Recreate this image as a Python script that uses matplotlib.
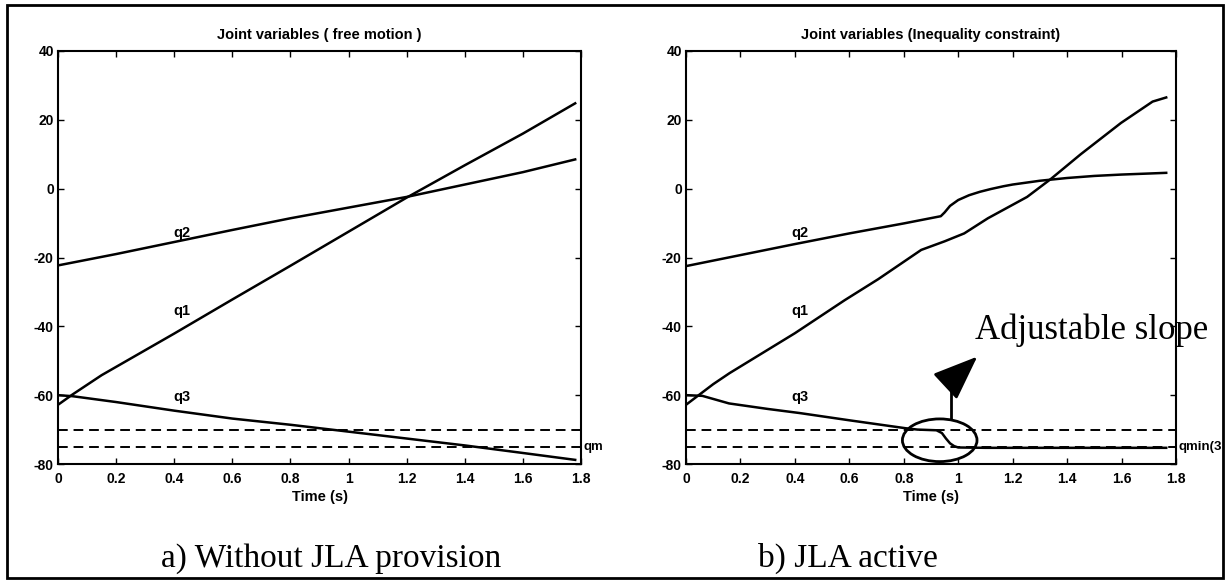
import numpy as np
import matplotlib
matplotlib.use("Agg")
import matplotlib.pyplot as plt
from matplotlib.patches import Ellipse, Rectangle

plt.rcParams['font.family'] = ['Liberation Sans', 'DejaVu Sans']
plt.rcParams['axes.unicode_minus'] = False

# ---- data ----
# a) free motion
t_q1a = [0, 0.05, 0.1, 0.15, 0.4, 0.6, 0.8, 1.0, 1.2, 1.4, 1.6, 1.78]
q1a = [-62.8, -59.8, -57.0, -54.2, -42.1, -32.2, -22.4, -12.5, -2.6, 6.8, 16.0, 24.8]
t_q2a = [0, 0.2, 0.4, 0.6, 0.8, 1.0, 1.2, 1.4, 1.6, 1.78]
q2a = [-22.3, -19.0, -15.5, -12.0, -8.6, -5.5, -2.4, 1.2, 4.8, 8.5]
t_q3a = [0, 0.05, 0.2, 0.4, 0.6, 0.8, 1.0, 1.2, 1.4, 1.6, 1.78]
q3a = [-60.0, -60.3, -62.0, -64.5, -66.8, -68.6, -70.6, -72.6, -74.6, -76.8, -78.8]

# b) inequality constraint (JLA active)
t_q1b = [0, 0.05, 0.1, 0.16, 0.4, 0.583, 0.706, 0.864, 0.95, 1.022, 1.109, 1.253,
         1.34, 1.45, 1.598, 1.714, 1.764]
q1b = [-62.8, -59.8, -56.8, -53.6, -42.0, -32.4, -26.3, -17.8, -15.3, -13.0, -8.6, -2.4,
       2.8, 10.0, 19.1, 25.3, 26.5]
t_q2b = [0, 0.2, 0.4, 0.6, 0.8, 0.936, 0.95, 0.97, 1.0, 1.04, 1.08, 1.12, 1.166, 1.2,
         1.3, 1.4, 1.5, 1.6, 1.7, 1.764]
q2b = [-22.5, -19.3, -16.1, -13.0, -10.1, -8.0, -6.9, -5.0, -3.3, -1.9, -0.9, -0.1, 0.7,
       1.2, 2.3, 3.1, 3.7, 4.1, 4.4, 4.6]
t_q3b = [0, 0.06, 0.158, 0.3, 0.418, 0.6, 0.806, 0.85, 0.92, 0.94, 0.955, 0.97, 0.985,
         1.0, 1.1, 1.4, 1.764]
q3b = [-60.0, -60.2, -62.4, -64.0, -65.2, -67.3, -69.6, -70.0, -70.2, -71.0, -72.6, -74.0,
       -74.8, -75.2, -75.3, -75.3, -75.3]

q_limits = [-70, -75]
xticks = [0, 0.2, 0.4, 0.6, 0.8, 1, 1.2, 1.4, 1.6, 1.8]
xtick_labels = ['0', '0.2', '0.4', '0.6', '0.8', '1', '1.2', '1.4', '1.6', '1.8']
yticks = [-80, -60, -40, -20, 0, 20, 40]

W, H = 1228, 583
fig = plt.figure(figsize=(W / 100, H / 100), dpi=100)


def px_axes(x0, y0, x1, y1):
    return fig.add_axes([x0 / W, 1 - y1 / H, (x1 - x0) / W, (y1 - y0) / H])


def style(ax, title):
    ax.set_xlim(0, 1.8)
    ax.set_ylim(-80, 40)
    ax.set_xticks(xticks)
    ax.set_xticklabels(xtick_labels)
    ax.set_yticks(yticks)
    ax.tick_params(direction='in', top=True, right=True, length=4, width=1,
                   labelsize=10, pad=3)
    ax.tick_params(axis='x', pad=6)
    for lab in ax.get_xticklabels() + ax.get_yticklabels():
        lab.set_fontweight('bold')
    for s in ax.spines.values():
        s.set_linewidth(1.5)
    ax.set_title(title, fontsize=10.5, fontweight='bold', pad=9)
    ax.set_xlabel('Time (s)', fontsize=10.5, fontweight='bold', labelpad=3)
    for q in q_limits:
        ax.axhline(q, color='black', lw=1.4, ls=(0, (5, 3)))


line_kw = dict(color='black', lw=1.8)
lab_kw = dict(fontsize=10.5, fontweight='bold', ha='center', va='center')
serif = ['Liberation Serif', 'DejaVu Serif']

# left panel
ax1 = px_axes(58, 51, 581, 464)
style(ax1, 'Joint variables ( free motion )')
ax1.plot(t_q1a, q1a, **line_kw)
ax1.plot(t_q2a, q2a, **line_kw)
ax1.plot(t_q3a, q3a, **line_kw)
ax1.text(0.425, -13.0, 'q2', **lab_kw)
ax1.text(0.425, -35.6, 'q1', **lab_kw)
ax1.text(0.425, -60.4, 'q3', **lab_kw)
ax1.text(1.81, -75, 'qm', fontsize=9.5, fontweight='bold', ha='left', va='center',
         clip_on=False)

# right panel
ax2 = px_axes(686, 51, 1176, 464)
style(ax2, 'Joint variables (Inequality constraint)')
ax2.plot(t_q1b, q1b, **line_kw)
ax2.plot(t_q2b, q2b, **line_kw)
ax2.plot(t_q3b, q3b, **line_kw)
ax2.text(0.418, -12.8, 'q2', **lab_kw)
ax2.text(0.42, -35.6, 'q1', **lab_kw)
ax2.text(0.42, -60.6, 'q3', **lab_kw)
ax2.text(1.81, -75, 'qmin(3', fontsize=9.5, fontweight='bold', ha='left', va='center',
         clip_on=False)

# annotation: ellipse + arrow + label
ax2.add_patch(Ellipse((0.932, -73.1), 0.274, 12.4, fill=False, lw=2, color='black',
                      clip_on=False))
ax2.plot([0.972, 0.972], [-67.0, -55.8], color='black', lw=2)
ax2.annotate('', xy=(1.07, -48.8), xytext=(0.972, -56.0),
             arrowprops=dict(arrowstyle='-|>,head_length=1.4,head_width=0.55',
                             color='black', lw=2, mutation_scale=20,
                             shrinkA=0, shrinkB=0))
ax2.text(1.062, -43.6, 'Adjustable slope', family=serif,
         fontsize=25, ha='left', va='baseline', clip_on=False, zorder=5)

# captions
fig.text(331 / W, 1 - 567 / H, 'a) Without JLA provision', family=serif,
         fontsize=24, ha='center', va='baseline')
fig.text(848 / W, 1 - 567 / H, 'b) JLA active', family=serif,
         fontsize=24, ha='center', va='baseline')

# outer frame
fig.patches.append(Rectangle((7 / W, 1 - 578 / H), (1223 - 7) / W, (578 - 5) / H,
                             transform=fig.transFigure, fill=False, lw=2,
                             edgecolor='black'))

fig.savefig('out.png', dpi=100)
